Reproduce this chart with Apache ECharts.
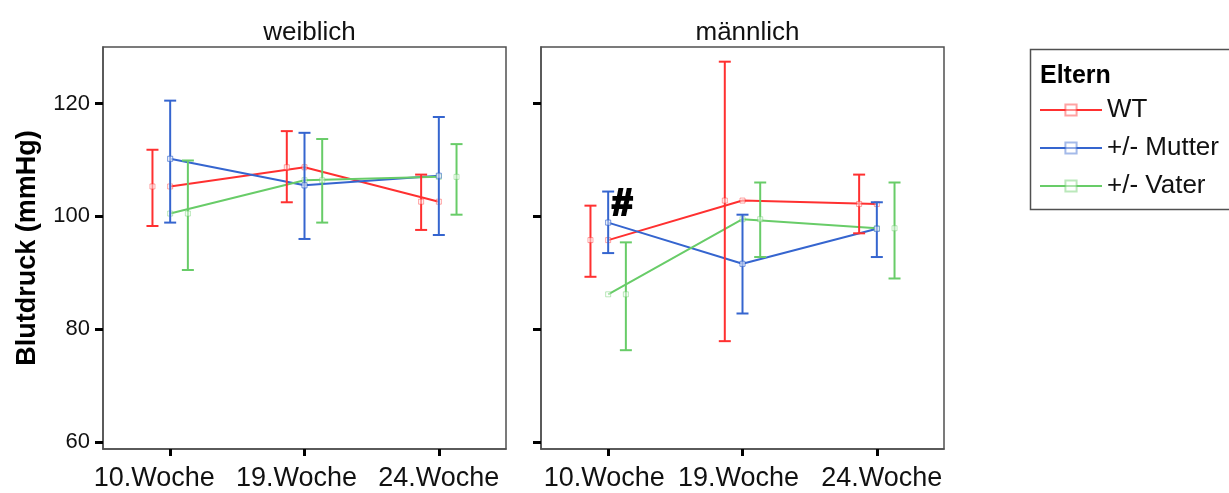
<!DOCTYPE html>
<html>
<head>
<meta charset="utf-8">
<script src="https://cdn.jsdelivr.net/npm/echarts@6/dist/echarts.min.js"></script>
<style>
html,body{margin:0;padding:0;background:#fff;}
#chart{width:1229px;height:493px;}
</style>
</head>
<body>
<div id="chart"></div>
<script>
const categories = ['10.Woche', '19.Woche', '24.Woche'];
const panels = ['weiblich', 'männlich'];
const groups = ['WT', '+/- Mutter', '+/- Vater'];
const yTicks = [60, 80, 100, 120];

// weiblich
const wtMeanW  = [105.3, 108.7, 102.6];
const wtLowW   = [98.3, 102.5, 97.6];
const wtHighW  = [111.8, 115.1, 107.4];
const mutMeanW = [110.2, 105.5, 107.2];
const mutLowW  = [98.9, 96.0, 96.7];
const mutHighW = [120.5, 114.8, 117.6];
const vatMeanW = [100.5, 106.4, 107.0];
const vatLowW  = [90.5, 98.9, 100.3];
const vatHighW = [109.9, 113.7, 112.8];

// männlich
const wtMeanM  = [95.8, 102.8, 102.2];
const wtLowM   = [89.3, 77.9, 97.0];
const wtHighM  = [101.9, 127.4, 107.4];
const mutMeanM = [98.9, 91.6, 97.8];
const mutLowM  = [93.5, 82.8, 92.8];
const mutHighM = [104.4, 100.3, 102.5];
const vatMeanM = [86.2, 99.5, 97.9];
const vatLowM  = [76.3, 92.8, 89.0];
const vatHighM = [95.4, 106.0, 106.0];

const colors = ['#ff3030', '#3565cf', '#68cc68'];
const offsets = [-17.7, 0, 17.7];
const FONT = '"Liberation Sans", Arial, sans-serif';
// horizontal label shifts (px) per panel, as placed in the original
const labelShift = [[-16, -8, 0], [-4, -4, 5]];

const dataSets = [
  [[wtMeanW, wtLowW, wtHighW], [mutMeanW, mutLowW, mutHighW], [vatMeanW, vatLowW, vatHighW]],
  [[wtMeanM, wtLowM, wtHighM], [mutMeanM, mutLowM, mutHighM], [vatMeanM, vatLowM, vatHighM]]
];

const gridLefts = [103, 541];
const grids = gridLefts.map(l => ({
  left: l, top: 47, width: 403, height: 402,
  show: true, borderColor: '#505050', borderWidth: 1.5, backgroundColor: '#fff'
}));

const xAxes = gridLefts.map((l, gi) => {
  const rich = {};
  labelShift[gi].forEach((s, i) => {
    rich['s' + i] = {
      fontSize: 27, color: '#111', fontFamily: FONT,
      padding: s < 0 ? [0, -2 * s, 0, 0] : [0, 0, 0, 2 * s]
    };
  });
  return {
    type: 'category', gridIndex: gi, data: categories, boundaryGap: true,
    axisLine: { show: true, lineStyle: { color: '#505050', width: 1.5 } },
    axisTick: { show: true, interval: 0, alignWithLabel: true, length: 7, lineStyle: { color: '#000', width: 3 } },
    axisLabel: {
      interval: 0, fontSize: 27, color: '#111', fontFamily: FONT, margin: 16,
      formatter: (v, i) => '{s' + i + '|' + v + '}', rich: rich
    },
    splitLine: { show: false }
  };
});

const yAxes = gridLefts.map((l, gi) => ({
  type: 'value', gridIndex: gi, min: 58.8, max: 130,
  name: gi === 0 ? 'Blutdruck (mmHg)' : '',
  nameLocation: 'middle', nameRotate: 90, nameGap: 62,
  nameTextStyle: { fontSize: 27, fontWeight: 'bold', color: '#000', fontFamily: FONT },
  axisLine: { show: true, lineStyle: { color: '#505050', width: 1.5 } },
  axisTick: { show: true, length: 8, lineStyle: { color: '#000', width: 3 }, customValues: yTicks },
  axisLabel: { show: gi === 0, fontSize: 22, color: '#111', fontFamily: FONT, margin: 13, customValues: yTicks },
  splitLine: { show: false }
}));

const series = [];
// line series (means at category centres)
dataSets.forEach((ds, gi) => {
  ds.forEach((d, si) => {
    series.push({
      type: 'line', name: groups[si], xAxisIndex: gi, yAxisIndex: gi,
      data: d[0], symbol: 'rect', symbolSize: 5,
      lineStyle: { color: colors[si], width: 2 },
      itemStyle: { color: '#fff', borderColor: colors[si], borderWidth: 1, opacity: 0.45 },
      emphasis: { disabled: true }, z: 3
    });
  });
});
// error bars (offset per group)
dataSets.forEach((ds, gi) => {
  ds.forEach((d, si) => {
    const col = colors[si], off = offsets[si];
    series.push({
      type: 'custom', name: groups[si], xAxisIndex: gi, yAxisIndex: gi,
      data: categories.map((c, i) => [i, d[1][i], d[2][i], d[0][i]]),
      encode: { x: 0, y: [1, 2] },
      z: 4,
      renderItem: function (params, api) {
        const idx = api.value(0);
        const pl = api.coord([idx, api.value(1)]);
        const ph = api.coord([idx, api.value(2)]);
        const pm = api.coord([idx, api.value(3)]);
        const x = pl[0] + off;
        const cap = 6;
        return {
          type: 'group',
          children: [
            { type: 'line', shape: { x1: x, y1: pl[1], x2: x, y2: ph[1] }, style: { stroke: col, lineWidth: 2 } },
            { type: 'line', shape: { x1: x - cap, y1: pl[1], x2: x + cap, y2: pl[1] }, style: { stroke: col, lineWidth: 2 } },
            { type: 'line', shape: { x1: x - cap, y1: ph[1], x2: x + cap, y2: ph[1] }, style: { stroke: col, lineWidth: 2 } },
            { type: 'rect', shape: { x: x - 2.5, y: pm[1] - 2.5, width: 5, height: 5 }, style: { fill: '#fff', stroke: col, lineWidth: 1, opacity: 0.45 } }
          ]
        };
      }
    });
  });
});

const option = {
  backgroundColor: '#fff',
  animation: false,
  title: panels.map((p, gi) => ({
    text: p, left: gridLefts[gi] + 201.5, top: 15, textAlign: 'center',
    textStyle: { fontSize: 26, fontWeight: 'normal', color: '#111', fontFamily: FONT }
  })),
  grid: grids,
  xAxis: xAxes,
  yAxis: yAxes,
  legend: {
    data: groups, orient: 'vertical', left: 1034, top: 92,
    itemWidth: 62, itemHeight: 14, itemGap: 12,
    textStyle: { fontSize: 26, color: '#111', fontFamily: FONT, lineHeight: 26 },
    selectedMode: true
  },
  graphic: [
    { type: 'rect', left: 1028, top: 47, shape: { width: 230, height: 160 }, style: { fill: 'none', stroke: '#505050', lineWidth: 1.5 }, z: -1 },
    { type: 'text', left: 1040, top: 64, style: { text: 'Eltern', fontSize: 25, fontWeight: 'bold', fill: '#000', fontFamily: FONT } },
    { type: 'text', left: 611, top: 185, style: { text: '#', fontSize: 37, fontWeight: 'bold', fill: '#000', stroke: '#000', lineWidth: 2.2, fontFamily: FONT }, z: 10 }
  ],
  series: series
};

const chart = echarts.init(document.getElementById('chart'), null, { renderer: 'canvas' });
chart.setOption(option);
</script>
</body>
</html>
